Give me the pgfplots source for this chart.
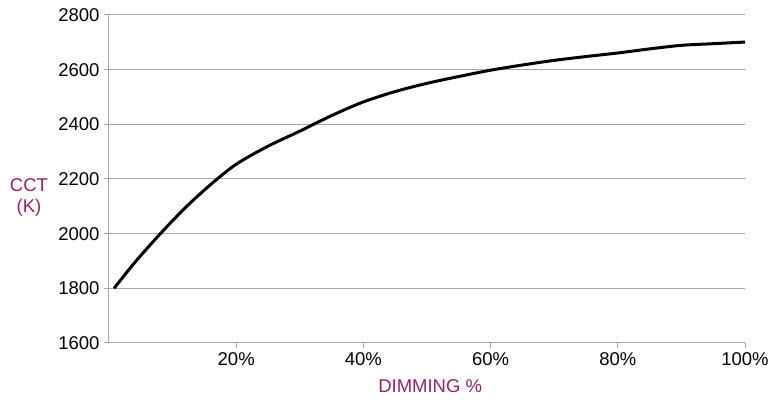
\documentclass[border=0pt]{standalone}
\usepackage{fontspec}
\setmainfont{Liberation Sans}
\usepackage{pgfplots}
\pgfplotsset{compat=1.18}
\usetikzlibrary{calc}
\definecolor{labelpurple}{HTML}{9C1F63}
\definecolor{gridgray}{HTML}{A6A6A6}

\begin{document}
\begin{tikzpicture}
\begin{axis}[
    scale only axis,
    width=636pt, height=328pt,
    xmin=0, xmax=100,
    ymin=1600, ymax=2800,
    xtick={20,40,60,80,100},
    xticklabels={20\%,40\%,60\%,80\%,100\%},
    ytick={1600,1800,...,2800},
    axis lines=left,
    axis line style={gridgray, line width=1pt, -},
    ymajorgrids=true,
    grid style={gridgray, line width=1pt},
    tick style={gridgray, line width=1pt},
    tick align=outside,
    major tick length=5pt,
    /pgf/number format/1000 sep={},
    /pgf/number format/assume math mode=true,
    tick label style={font=\fontsize{18.5}{21}\selectfont, black},
    xticklabel style={yshift=-1pt},
    yticklabel style={xshift=-1pt},
    xlabel={DIMMING \%},
    xlabel style={font=\fontsize{18.5}{21}\selectfont, labelpurple, at={(rel axis cs:0.505,0)}, anchor=center, yshift=-43pt},
    ylabel={CCT\\(K)},
    ylabel style={font=\fontsize{18.5}{21}\selectfont, labelpurple, rotate=-90, align=center, at={(rel axis cs:0,0.445)}, anchor=center, xshift=-80pt},
    clip=false,
]
\addplot[black, line width=3pt, smooth, tension=0.5] coordinates {
    (0.8,1800) (4,1893) (8,1998) (12,2095) (16,2180) (20,2254) (25,2320)
    (30,2375) (35,2432) (40,2482) (45,2520) (50,2550) (55,2575)
    (60,2598) (65,2617) (70,2634) (75,2648) (80,2661) (85,2676)
    (90,2689) (95,2695) (100,2701)
};
\end{axis}
\pgfresetboundingbox
\path[use as bounding box] ($(current axis.south west)+(-109pt,-57pt)$) rectangle ($(current axis.north east)+(24pt,15pt)$);
\end{tikzpicture}
\end{document}
